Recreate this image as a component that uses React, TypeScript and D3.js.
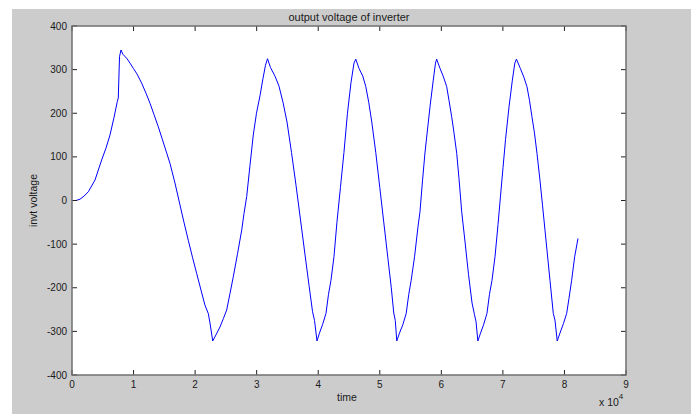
import * as d3 from 'd3'

// time in units of 1e4, voltage in V
const TIME = [
  0, 0.065, 0.13, 0.195, 0.265, 0.374, 0.482, 0.552, 0.617, 0.682, 0.736, 0.752, 0.772, 0.796,
  0.828, 0.889, 0.942, 0.996, 1.056, 1.132, 1.202, 1.267, 1.332, 1.402, 1.47, 1.538, 1.592, 1.673,
  1.754, 1.819, 1.889, 1.957, 2.025, 2.095, 2.16, 2.214, 2.242, 2.286,
  2.339, 2.404, 2.458, 2.513, 2.567, 2.62, 2.689, 2.757, 2.794, 2.838, 2.891, 2.945, 2.997, 3.054,
  3.103, 3.143, 3.176,
  3.224, 3.298, 3.363, 3.428, 3.493, 3.566, 3.639, 3.713, 3.786, 3.851, 3.908, 3.94, 3.98,
  4.02, 4.069, 4.126, 4.167, 4.207, 4.256, 4.304, 4.361, 4.418, 4.475, 4.532, 4.581, 4.61,
  4.662, 4.724, 4.773, 4.821, 4.87, 4.935, 5.0, 5.065, 5.13, 5.187, 5.227, 5.252, 5.276,
  5.32, 5.374, 5.429, 5.471, 5.51, 5.565, 5.621, 5.653, 5.694, 5.734, 5.816, 5.869, 5.905, 5.924,
  5.978, 6.035, 6.087, 6.124, 6.168, 6.206, 6.25, 6.287, 6.331, 6.385, 6.442, 6.499, 6.539, 6.564, 6.593,
  6.637, 6.686, 6.741, 6.782, 6.823, 6.872, 6.921, 6.961, 7.002, 7.043, 7.1, 7.154, 7.194, 7.22,
  7.283, 7.34, 7.391, 7.432, 7.472, 7.513, 7.554, 7.602, 7.643, 7.684, 7.724, 7.765, 7.819, 7.846, 7.883,
  7.927, 7.984, 8.036, 8.073, 8.117, 8.166, 8.22,
]

const VOLTAGE = [
  0, 0, 3, 10, 20, 47, 93, 120, 150, 190, 227, 235, 330, 345,
  335, 326, 315, 303, 290, 269, 246, 223, 197, 169, 139, 109, 85, 40,
  -10, -50, -91, -130, -167, -205, -240, -259, -281, -322,
  -308, -290, -271, -251, -213, -175, -122, -68, -30, 9, 80, 150, 200, 240,
  280, 310, 325,
  305, 285, 262, 225, 180, 110, 35, -45, -125, -195, -255, -275, -322,
  -304, -285, -259, -215, -183, -129, -50, 30, 110, 200, 270, 315, 324,
  303, 285, 261, 225, 180, 110, 30, -50, -130, -200, -258, -275, -322,
  -304, -285, -259, -215, -183, -129, -60, -26, 45, 109, 215, 276, 315, 324,
  303, 283, 261, 230, 192, 155, 108, 50, -26, -95, -170, -235, -262, -278, -322,
  -304, -285, -259, -215, -183, -129, -55, 10, 75, 140, 215, 276, 315, 324,
  303, 283, 261, 230, 192, 155, 108, 47, -10, -68, -125, -183, -259, -274, -322,
  -304, -282, -259, -225, -183, -129, -87,
]

const X_TICKS = [0, 1, 2, 3, 4, 5, 6, 7, 8, 9]
const Y_TICKS = [-400, -300, -200, -100, 0, 100, 200, 300, 400]

const FONT = '"Liberation Sans", Arial, sans-serif'

export default function App() {
  const W = 691
  const H = 414
  const left = 72
  const right = 626
  const top = 26
  const bottom = 375

  const x = d3.scaleLinear().domain([0, 9]).range([left, right])
  const y = d3.scaleLinear().domain([-400, 400]).range([bottom, top])

  const pts: [number, number][] = TIME.map((t, i) => [t, VOLTAGE[i]])
  const path = d3.line<[number, number]>()
    .x((d) => x(d[0]))
    .y((d) => y(d[1]))(pts)

  const tickLen = 5

  return (
    <svg width={W} height={H} style={{ position: 'absolute', left: 0, top: 0 }}>
      <rect x={0} y={0} width={W} height={H} fill="#fff" />
      <rect x={12} y={9} width={W - 12} height={H - 9} fill="#cccccc" />
      <rect x={left} y={top} width={right - left} height={bottom - top} fill="#fff" />

      <path d={path || ''} fill="none" stroke="#0000ff" strokeWidth={1} />

      {/* ticks, inward on all four sides */}
      {X_TICKS.map((t) => (
        <g key={'xt' + t}>
          <line x1={x(t)} x2={x(t)} y1={bottom} y2={bottom - tickLen} stroke="#222" />
          <line x1={x(t)} x2={x(t)} y1={top} y2={top + tickLen} stroke="#222" />
          <text x={x(t)} y={388} textAnchor="middle" fontFamily={FONT} fontSize={10} fill="#1a1a1a">
            {t}
          </text>
        </g>
      ))}
      {Y_TICKS.map((v) => (
        <g key={'yt' + v}>
          <line x1={left} x2={left + tickLen} y1={y(v)} y2={y(v)} stroke="#222" />
          <line x1={right} x2={right - tickLen} y1={y(v)} y2={y(v)} stroke="#222" />
          <text x={67} y={y(v) + 3.5} textAnchor="end" fontFamily={FONT} fontSize={10} fill="#1a1a1a">
            {v}
          </text>
        </g>
      ))}

      <rect x={left} y={top} width={right - left} height={bottom - top} fill="none" stroke="#707070" strokeWidth={1.5} />

      <text x={349} y={21} textAnchor="middle" fontFamily={FONT} fontSize={11} fill="#1a1a1a">
        output voltage of inverter
      </text>
      <text x={347} y={401} textAnchor="middle" fontFamily={FONT} fontSize={10.5} fill="#1a1a1a">
        time
      </text>
      <text x={599} y={406} fontFamily={FONT} fontSize={10.5} fill="#1a1a1a">
        x 10<tspan dy={-7} fontSize={8}>4</tspan>
      </text>
      <text
        transform={`translate(37,${(top + bottom) / 2}) rotate(-90)`}
        textAnchor="middle"
        fontFamily={FONT}
        fontSize={10.5}
        fill="#1a1a1a"
      >
        invt voltage
      </text>
    </svg>
  )
}
